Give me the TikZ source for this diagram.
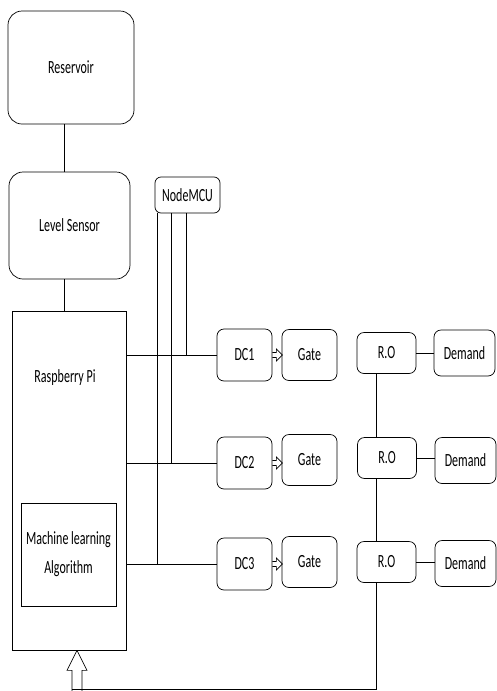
\documentclass[tikz,border=0pt]{standalone}
\usepackage{fontspec}
\usepackage{graphicx}
\setmainfont{Carlito}
\newcommand{\tallt}[1]{\scalebox{1}[1.55]{#1}}
\begin{document}
\begin{tikzpicture}[x=1pt,y=-1pt,line width=0.7pt,
  every node/.style={font=\fontsize{12}{14}\selectfont},
  tank/.style={draw,rounded corners=14pt},
  unit/.style={draw,rounded corners=7pt,minimum width=55pt,minimum height=51pt},
  ro/.style={draw,rounded corners=7pt,minimum width=59pt,minimum height=41pt},
  dem/.style={draw,rounded corners=7pt,minimum width=61pt,minimum height=46pt}]
\useasboundingbox (0,0) rectangle (496,691);
% left column
\node[tank,minimum width=126pt,minimum height=113pt] (res) at (71,67.5) {\tallt{Reservoir}};
\node[tank,minimum width=121pt,minimum height=107pt] (lvl) at (69.5,225.5) {\tallt{Level Sensor}};
\node[draw,minimum width=114pt,minimum height=339pt] (rpi) at (69,480.5) {};
\node (rpitxt) at (65,378) {\tallt{Raspberry Pi}};
\node[draw,minimum width=95pt,minimum height=103pt,align=center] (ml) at (68.5,554.5) {\tallt{Machine learning}\\[12pt]\tallt{Algorithm}};
\coordinate (spine) at (64,0);
\draw (spine |- res.south) -- (spine |- lvl.north);
\draw (spine |- lvl.south) -- (spine |- rpi.north);
% NodeMCU
\node[draw,rounded corners=6pt,minimum width=65pt,minimum height=36pt] (mcu) at (187.5,195) {\tallt{NodeMCU}};
% motor drivers and gates
\node[unit,minimum height=52pt] (dc1) at (244.5,355) {\tallt{DC1}};
\node[unit,minimum height=52pt] (dc2) at (244.5,463) {\tallt{DC2}};
\node[unit,minimum height=52pt] (dc3) at (244.5,564) {\tallt{DC3}};
\node[unit] (gate1) at (309.5,355) {\tallt{Gate}};
\node[unit] (gate2) at (309.5,460) {\tallt{Gate}};
\node[unit] (gate3) at (309.5,562) {\tallt{Gate}};
\draw (rpi.east |- dc1.west) -- (dc1.west);
\draw (rpi.east |- dc2.west) -- (dc2.west);
\draw (rpi.east |- dc3.west) -- (dc3.west);
\coordinate (w1) at (186,0); \coordinate (w2) at (171,0); \coordinate (w3) at (157,0);
\draw (w1 |- mcu.south) -- (w1 |- dc1.west);
\draw (w2 |- mcu.south) -- (w2 |- dc2.west);
\draw (w3 |- mcu.south) -- (w3 |- dc3.west);
\draw ([yshift=-2.5pt]dc1.east) -- ++(4,0) -- ++(0,3.5) -- ++(6,-6) -- ++(-6,-6) -- ++(0,3.5) -- ++(-4,0);
\draw ([yshift=-2.5pt]dc2.east) -- ++(4,0) -- ++(0,3.5) -- ++(6,-6) -- ++(-6,-6) -- ++(0,3.5) -- ++(-4,0);
\draw ([yshift=-2.5pt]dc3.east) -- ++(4,0) -- ++(0,3.5) -- ++(6,-6) -- ++(-6,-6) -- ++(0,3.5) -- ++(-4,0);
% outlets
\node[ro] (ro1) at (386.5,353) {\tallt{R.O}};
\node[ro] (ro2) at (387,458) {\tallt{R.O}};
\node[ro] (ro3) at (386.5,562) {\tallt{R.O}};
\node[dem] (dem1) at (464.5,353) {\tallt{Demand}};
\node[dem] (dem2) at (465.5,460.5) {\tallt{Demand}};
\node[dem] (dem3) at (465.5,563.5) {\tallt{Demand}};
\draw (ro1.east) -- (ro1.east -| dem1.west);
\draw (ro2.east) -- (ro2.east -| dem2.west);
\draw (ro3.east) -- (ro3.east -| dem3.west);
\coordinate (bus) at (376,0);
\draw (bus |- ro1.south) -- (bus |- ro2.north);
\draw (bus |- ro2.south) -- (bus |- ro3.north);
% feedback to the Pi
\coordinate (fb) at (77,0);
\draw (bus |- ro3.south) |- (72,689.5);
\draw (fb |- rpi.south) -- ++(-10,20) -- ++(5,0) -- ++(0,21);
\draw (fb |- rpi.south) -- ++(10,20) -- ++(-5,0) -- ++(0,21);
\end{tikzpicture}
\end{document}
